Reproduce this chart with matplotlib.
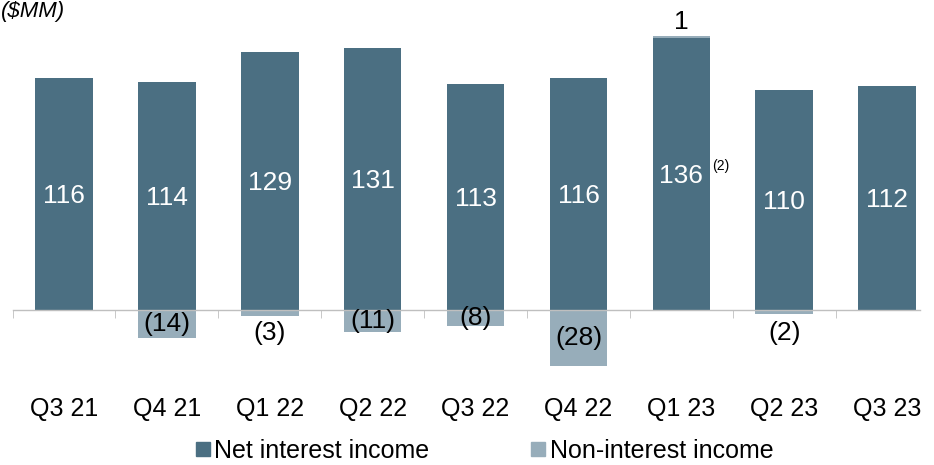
import numpy as np
import matplotlib.pyplot as plt
from matplotlib.lines import Line2D

quarters = ['Q3 21', 'Q4 21', 'Q1 22', 'Q2 22', 'Q3 22', 'Q4 22', 'Q1 23', 'Q2 23', 'Q3 23']
net_interest = [116, 114, 129, 131, 113, 116, 136, 110, 112]
non_interest = [0, -14, -3, -11, -8, -28, 1, -2, 0]

dark = '#4b6f82'
light = '#97adba'

plt.rcParams['font.family'] = ['Liberation Sans', 'DejaVu Sans']

fig = plt.figure(figsize=(9.34, 4.65), dpi=100)
ax = fig.add_axes([0.01344, 0.1828, 0.9716, 0.8172])
x = np.arange(len(quarters))
w = 0.56

ax.bar(x, net_interest, w, color=dark)
pos = [v if v > 0 else 0 for v in non_interest]
neg = [v if v < 0 else 0 for v in non_interest]
ax.bar(x, pos, w, bottom=net_interest, color=light)
ax.bar(x, neg, w, color=light)

# value labels
for i, v in enumerate(net_interest):
    ax.text(i, v / 2 - 1, str(v), ha='center', va='center', color='white', fontsize=19)
for i, v in enumerate(non_interest):
    if v == 0:
        continue
    if v > 0:
        ax.text(i, net_interest[i] + v + 7, str(v), ha='center', va='center', color='black', fontsize=19)
    elif v > -5:
        ax.text(i, -11.5, '(%d)' % -v, ha='center', va='center', color='black', fontsize=19)
    else:
        ax.text(i, v / 2, '(%d)' % -v, ha='center', va='center', color='black', fontsize=19)

# footnote on Q1 23
ax.text(6 + w / 2 + 0.02, net_interest[6] / 2 + 4, '(2)', ha='left', va='center', fontsize=10)

ax.set_xlim(-0.5, 8.32)
ax.set_ylim(-35, 155)
for s in ['top', 'right', 'left']:
    ax.spines[s].set_visible(False)
ax.spines['bottom'].set_position(('data', 0))
ax.spines['bottom'].set_color('#bfbfbf')
ax.spines['bottom'].set_linewidth(1)
ax.set_yticks([])
ax.set_xticks(x)
ax.set_xticklabels(quarters, fontsize=18)
ax.set_xticks(np.arange(len(quarters)) - 0.5, minor=True)
ax.tick_params(axis='x', which='major', length=0, pad=63)
ax.tick_params(axis='x', which='minor', length=6, color='#bfbfbf', direction='out')

fig.text(0.001, 0.976, '($MM)', ha='left', va='center', fontsize=16, style='italic')

handles = [Line2D([], [], marker='s', linestyle='', color=dark, markersize=10),
           Line2D([], [], marker='s', linestyle='', color=light, markersize=10)]
fig.legend(handles, ['Net interest income', 'Non-interest income'], loc='center',
           bbox_to_anchor=(0.518, 0.03), ncol=2, frameon=False, fontsize=18,
           handletextpad=0.1, columnspacing=4.0, handlelength=0.7,
           borderpad=0.1, borderaxespad=0)

fig.savefig('out.png', dpi=100)
